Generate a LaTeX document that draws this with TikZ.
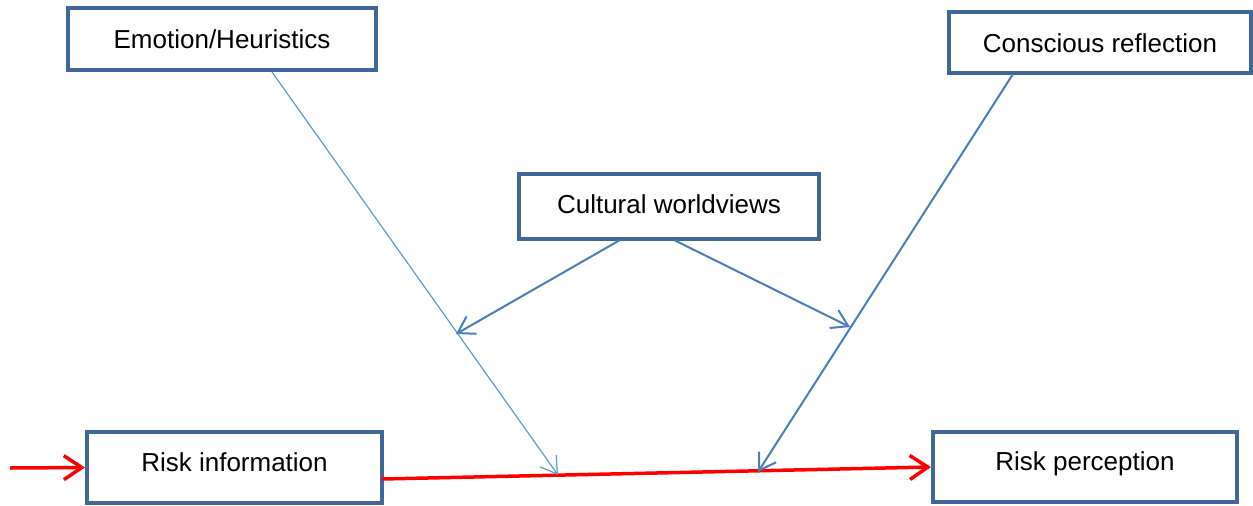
\documentclass[tikz,border=0pt]{standalone}
\usepackage{fontspec}
\setmainfont{Liberation Sans}
\usetikzlibrary{arrows.meta}
\definecolor{boxblue}{HTML}{41679A}
\definecolor{linkblue}{HTML}{4A7EBB}
\definecolor{lightlink}{HTML}{5B9BD5}
\definecolor{flowred}{HTML}{FF0000}
\tikzset{
  box/.style={draw=boxblue, line width=4pt, fill=white, rectangle,
    inner sep=0pt, font=\fontsize{26}{30}\selectfont,
    text height=19pt, text depth=0pt},
  lowtext/.style={text depth=12pt},
  midtext/.style={text depth=6pt},
  flow/.style={draw=flowred, line width=3.5pt,
    -{Straight Barb[length=18pt,width=24pt]}},
  link/.style={draw=linkblue, line width=2pt,
    -{Straight Barb[length=16pt,width=20pt]}},
  thinlink/.style={draw=lightlink, line width=1.2pt,
    -{Straight Barb[length=16pt,width=20pt]}}
}
\begin{document}
\begin{tikzpicture}[x=1pt,y=-1pt]
\useasboundingbox (0,0) rectangle (1253,506);

% the five boxes
\node[box, minimum width=308pt, minimum height=62pt] (emo) at (222,39) {Emotion/Heuristics};
\node[box, minimum width=302pt, minimum height=61pt] (cons) at (1100,42.5) {Conscious reflection};
\node[box, midtext, minimum width=300pt, minimum height=65pt] (cult) at (669,206.5) {Cultural worldviews};
\node[box, lowtext, minimum width=295pt, minimum height=71pt] (ri) at (234.5,467.5) {Risk information};
\node[box, lowtext, minimum width=304pt, minimum height=70pt] (rp) at (1085,467) {Risk perception};

% anchor points of the connectors
\coordinate (src) at (10,468);
\coordinate (riout) at (382,479);
\coordinate (emostart) at (272,72);
\coordinate (consstart) at (1013,74);
\coordinate (cultl) at (620,240);
\coordinate (cultr) at (674,240);
\coordinate (hitemo) at (558,475);
\coordinate (hitcons) at (758,472);
\coordinate (modemo) at (456,334);
\coordinate (modcons) at (850,327);

% main risk flow
\draw[flow] (src) -- (ri.west);
\draw[flow] (riout) -- (rp.west);

% influences on the flow
\draw[thinlink] (emostart) -- (hitemo);
\draw[link] (consstart) -- (hitcons);

% worldviews moderating both influences
\draw[link] (cultl) -- (modemo);
\draw[link] (cultr) -- (modcons);
\end{tikzpicture}
\end{document}
